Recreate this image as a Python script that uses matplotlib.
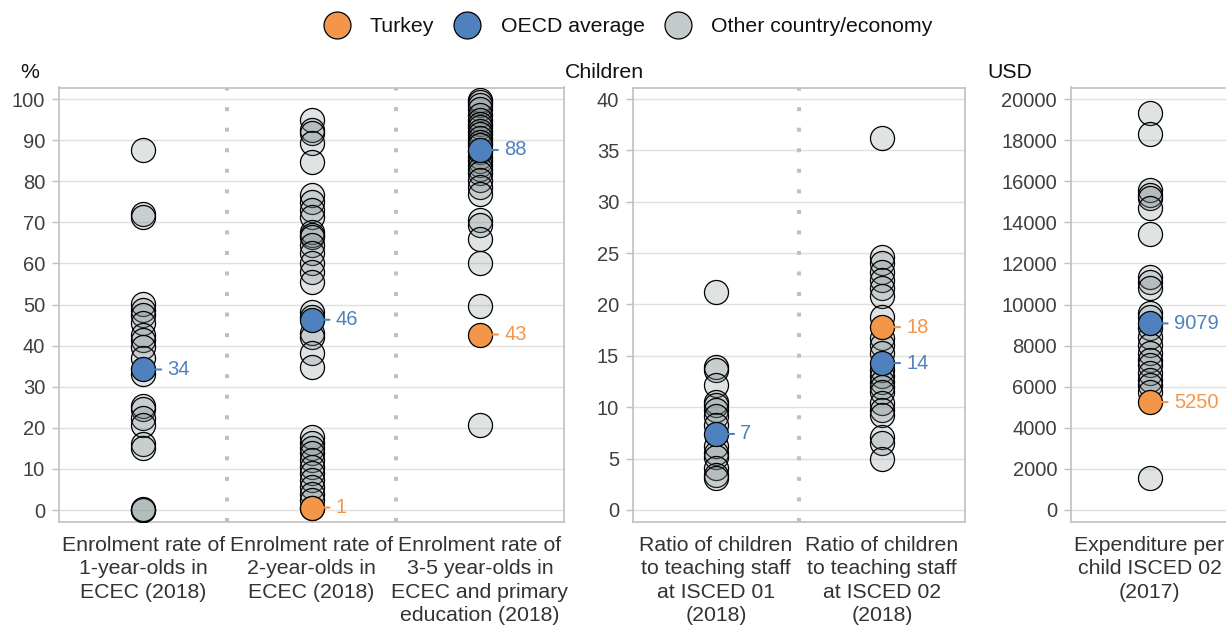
import matplotlib
matplotlib.use("Agg")
import matplotlib.pyplot as plt
from matplotlib.colors import to_rgba
from matplotlib.lines import Line2D

plt.rcParams['font.family'] = ['Liberation Sans', 'DejaVu Sans']

# ---------------- data ----------------
enrol_labels = ["Enrolment rate of\n1-year-olds in\nECEC (2018)",
                "Enrolment rate of\n2-year-olds in\nECEC (2018)",
                "Enrolment rate of\n3-5 year-olds in\nECEC and primary\neducation (2018)"]
enrol1_other = [87.7, 72.0, 71.2, 50.1, 48.6, 47.4, 45.4, 42.5, 41.3, 39.7, 36.9, 33.2,
                25.4, 24.5, 22.5, 20.8, 16.0, 15.0, 0.0, 0.0, 0.2]
enrol2_other = [94.9, 92.5, 91.7, 89.2, 84.7, 76.6, 75.0, 73.0, 71.4, 67.7, 66.9, 66.5,
                64.5, 62.5, 60.0, 58.0, 55.5, 48.3, 47.0, 43.0, 42.2, 38.1, 34.9,
                17.8, 16.2, 15.0, 13.8, 12.2, 10.5, 8.9, 7.3, 5.7, 4.0, 2.4, 0.5]
enrol35_other = [99.7, 99.2, 98.5, 97.6, 96.2, 95.0, 94.0, 93.2, 92.3, 91.5, 90.5, 89.5,
                 88.8, 87.0, 86.0, 85.0, 84.0, 83.0, 82.0, 80.3, 78.7, 77.0, 70.6, 69.3,
                 66.0, 60.0, 49.6, 20.8]
enrol_oecd = [34.2, 46.3, 87.6]
enrol_turkey = [None, 0.6, 42.7]

ratio_labels = ["Ratio of children\nto teaching staff\nat ISCED 01\n(2018)",
                "Ratio of children\nto teaching staff\nat ISCED 02\n(2018)"]
ratio01_other = [21.2, 13.95, 13.6, 12.2, 10.5, 10.2, 9.7, 9.1, 8.3, 6.2, 5.5, 5.2,
                 4.1, 3.4, 3.1]
ratio02_other = [36.2, 24.65, 24.0, 23.2, 22.4, 21.6, 20.8, 18.8, 16.7, 16.1, 15.25,
                 13.6, 13.0, 12.5, 12.0, 11.5, 10.4, 9.7, 9.2, 7.1, 6.5, 5.0]
ratio_oecd = [7.4, 14.3]
ratio_turkey = [None, 17.8]

exp_labels = ["Expenditure per\nchild ISCED 02\n(2017)"]
exp_other = [19333, 18296, 15571, 15328, 15166, 14680, 13415, 11353, 11110, 10785,
             9570, 9408, 8840, 8434, 8029, 7624, 7299, 7056, 6650, 6326, 6083, 5757, 1543]
exp_oecd = [9079]
exp_turkey = [5250]

legend_labels = ["Turkey", "OECD average", "Other country/economy"]
unit_labels = ["%", "Children", "USD"]

# ---------------- style ----------------
TURKEY = "#F3964A"
OECD = "#4E81BD"
OTHER = to_rgba("#707f82", 0.21)
OTHER_LEG = "#c4cacb"
SPINE = "#c0c0c0"
GRID = "#e0e0e0"
TXT = "#404040"
FS_TICK = 14.5
FS_LAB = 15.3
MS = 300

W, H = 1226, 630
fig = plt.figure(figsize=(W / 100, H / 100), dpi=100)


def ax_at(left, right, top=87.5, bottom=522):
    return fig.add_axes([left / W, (H - bottom) / H, (right - left) / W, (bottom - top) / H])


def draw(ax, labels, others, oecd, turkey, ylim, yticks):
    n = len(labels)
    for i, vals in enumerate(others):
        ax.scatter([i] * len(vals), vals, s=MS, facecolors=[OTHER], edgecolors="black",
                   linewidths=0.9, zorder=3)
    for vals, col in ((oecd, OECD), (turkey, TURKEY)):
        for i, v in enumerate(vals):
            if v is None:
                continue
            ax.scatter([i], [v], s=MS, facecolors=[col], edgecolors="black",
                       linewidths=0.9, zorder=4)
            ax.annotate(f"{round(v)}", xy=(i, v), xytext=(17.5, 0), textcoords="offset points",
                        ha="left", va="center", color=col, fontsize=FS_TICK, zorder=5,
                        arrowprops=dict(arrowstyle="-", color=col, lw=1.5, shrinkA=2.5,
                                        shrinkB=8.8, relpos=(0, 0.5)))
    for i in range(n - 1):
        ax.axvline(i + 0.5, color="#c0c0c0", lw=2.9, linestyle=(0, (1, 4.1)),
                   dash_capstyle="butt", zorder=1)
    ax.set_xlim(-0.5, n - 0.5)
    ax.set_ylim(*ylim)
    ax.set_yticks(yticks)
    ax.set_xticks(range(n))
    ax.set_xticklabels(labels, fontsize=FS_LAB, color="#333333", linespacing=1.3)
    ax.tick_params(axis="x", length=0, pad=10)
    ax.tick_params(axis="y", length=5, width=1, color=SPINE, labelsize=FS_TICK,
                   labelcolor=TXT, pad=5)
    ax.yaxis.grid(True, color=GRID, lw=1, zorder=0)
    ax.set_axisbelow(True)
    for sp in ax.spines.values():
        sp.set_color(SPINE)
        sp.set_linewidth(1.2)


ax1 = ax_at(59, 564)
draw(ax1, enrol_labels, [enrol1_other, enrol2_other, enrol35_other], enrol_oecd, enrol_turkey,
     (-2.9, 102.8), range(0, 101, 10))
ax2 = ax_at(633, 965)
draw(ax2, ratio_labels, [ratio01_other, ratio02_other], ratio_oecd, ratio_turkey,
     (-1.17, 41.12), range(0, 41, 5))
ax3 = ax_at(1071, 1228)
draw(ax3, exp_labels, [exp_other], exp_oecd, exp_turkey,
     (-584, 20560), range(0, 20001, 2000))

for txt, xpx in zip(unit_labels, (20, 565, 987)):
    fig.text(xpx / W, 1 - 72 / H, txt, ha="left", va="center", fontsize=FS_LAB, color="#111111")

handles = [Line2D([], [], marker="o", ls="none", markersize=19.4, markerfacecolor=c,
                  markeredgecolor="black", markeredgewidth=0.9)
           for c in (TURKEY, OECD, OTHER_LEG)]
fig.legend(handles, legend_labels, loc="center", bbox_to_anchor=(626 / W, 1 - 27 / H),
           ncol=3, frameon=False, fontsize=FS_LAB, handlelength=1.6, handletextpad=0.76,
           columnspacing=0.76, labelcolor="#111111")

fig.savefig("out.png", dpi=100)
